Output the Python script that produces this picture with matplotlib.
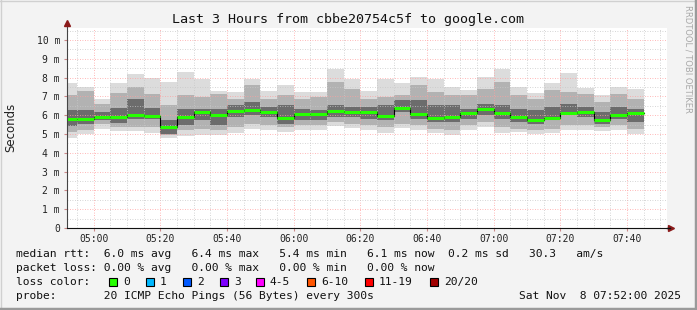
import pandas as pd
import matplotlib
matplotlib.use("Agg")
import matplotlib.pyplot as plt
import matplotlib.dates as mdates
from matplotlib.patches import Rectangle
from matplotlib.lines import Line2D

W, H = 697, 310

# 5 minute bins (start times), values in milliseconds
times = pd.date_range("2025-11-08 04:50", periods=35, freq="5min")
median = [5.78, 5.78, 5.92, 5.92, 6.03, 5.96, 5.39, 5.92, 6.17, 6.03, 6.24, 6.29,
          6.17, 5.87, 6.08, 6.08, 6.24, 6.15, 6.17, 5.96, 6.40, 6.06, 5.87, 5.90,
          6.13, 6.35, 6.12, 5.92, 5.76, 5.87, 6.12, 6.17, 5.76, 6.03, 6.12]
ping_max = [7.71, 7.50, 6.88, 7.71, 8.19, 8.00, 7.77, 8.30, 7.94, 7.30, 7.23, 7.91,
            7.30, 7.62, 7.23, 7.23, 8.44, 7.91, 7.28, 7.91, 7.73, 8.03, 7.91, 7.50,
            7.32, 8.03, 8.47, 7.50, 7.18, 7.71, 8.26, 7.46, 7.06, 7.50, 7.41]
ping_hi = [7.05, 7.27, 6.61, 7.20, 7.50, 7.14, 6.52, 7.05, 6.97, 7.14, 6.88, 7.59,
           6.88, 7.05, 6.88, 6.97, 7.77, 7.41, 6.88, 6.97, 7.05, 7.59, 7.23, 7.05,
           7.05, 7.41, 7.77, 7.05, 6.88, 7.32, 7.23, 7.14, 6.70, 7.14, 6.88]
core_hi = [6.30, 6.26, 6.17, 6.40, 6.88, 6.40, 5.75, 6.35, 6.35, 6.35, 6.52, 6.70,
           6.43, 6.52, 6.35, 6.26, 6.52, 6.43, 6.43, 6.52, 6.79, 6.79, 6.52, 6.52,
           6.35, 6.61, 6.52, 6.35, 6.26, 6.43, 6.61, 6.43, 6.17, 6.43, 6.35]
core_lo = [5.45, 5.55, 5.73, 5.60, 5.81, 5.78, 5.00, 5.46, 5.73, 5.46, 5.90, 6.00,
           5.90, 5.55, 5.73, 5.73, 5.90, 5.90, 5.81, 5.73, 6.17, 5.81, 5.64, 5.64,
           5.81, 5.99, 5.81, 5.64, 5.55, 5.73, 5.99, 5.90, 5.55, 5.81, 5.64]
ping_lo = [5.10, 5.20, 5.55, 5.37, 5.37, 5.37, 4.93, 5.20, 5.28, 5.20, 5.37, 5.55,
           5.46, 5.37, 5.46, 5.46, 5.64, 5.55, 5.46, 5.37, 5.55, 5.46, 5.28, 5.20,
           5.46, 5.64, 5.37, 5.28, 5.20, 5.28, 5.46, 5.46, 5.37, 5.46, 5.28]
ping_min = [4.79, 5.02, 5.28, 5.16, 5.14, 5.05, 4.79, 4.88, 4.96, 4.96, 5.05, 5.28,
            5.19, 5.10, 5.19, 5.23, 5.41, 5.34, 5.19, 5.05, 5.32, 5.23, 5.05, 4.96,
            5.19, 5.37, 5.05, 5.10, 4.98, 5.07, 5.23, 5.23, 5.14, 5.23, 4.98]

ytick_vals = list(range(0, 11))
ytick_labels = ["0"] + ["%d m" % v for v in range(1, 11)]

loss_labels = ["0", "1", "2", "3", "4-5", "6-10", "11-19", "20/20"]
loss_colors = ["#26ff00", "#00b8ff", "#0059ff", "#7e00ff", "#ff00ff", "#ff5500",
               "#ff0000", "#a10000"]

stat_lines = [
    "median rtt:  6.0 ms avg   6.4 ms max   5.4 ms min   6.1 ms now  0.2 ms sd   30.3   am/s",
    "packet loss: 0.00 % avg   0.00 % max   0.00 % min   0.00 % now",
]
probe_text = "probe:       20 ICMP Echo Pings (56 Bytes) every 300s"
date_text = "Sat Nov  8 07:52:00 2025"

mono = "DejaVu Sans Mono"


def fx(px):
    return px / W


def fy(py):
    return 1 - py / H


fig = plt.figure(figsize=(W / 100, H / 100), dpi=100, facecolor="#f3f3f3")
ax = fig.add_axes([fx(67), fy(228), 600 / W, 200 / H])
ax.set_facecolor("white")

width = pd.Timedelta(minutes=5) / pd.Timedelta(days=1)
x = mdates.date2num(times)

# smoke
ax.bar(x, [a - b for a, b in zip(ping_max, ping_min)], bottom=ping_min, width=width,
       align="edge", color="#dcdcdc", linewidth=0, zorder=1)
ax.bar(x, [a - b for a, b in zip(ping_hi, ping_lo)], bottom=ping_lo, width=width,
       align="edge", color="#b2b2b2", linewidth=0, zorder=1)
ax.bar(x, [a - b for a, b in zip(core_hi, core_lo)], bottom=core_lo, width=width,
       align="edge", color="#6c6c6c", linewidth=0, zorder=1)

# median line
edges = list(x) + [x[-1] + width]
ax.step(edges, median + [median[-1]], where="post", color="black", lw=0.8, zorder=3)
ax.hlines(median, x, x + width, color=loss_colors[0], lw=2.2, zorder=4)

start = pd.Timestamp("2025-11-08 04:52")
end = pd.Timestamp("2025-11-08 07:52")
ax.set_xlim(mdates.date2num(start), mdates.date2num(end))
ax.set_ylim(0, 10.64)

ax.xaxis.set_major_locator(mdates.MinuteLocator(byminute=[0, 20, 40]))
ax.xaxis.set_minor_locator(mdates.MinuteLocator(byminute=range(0, 60, 5)))
ax.xaxis.set_major_formatter(mdates.DateFormatter("%H:%M"))
ax.set_yticks(ytick_vals)
ax.set_yticklabels(ytick_labels)
ax.set_yticks([v + 0.5 for v in range(0, 11)], minor=True)

ax.set_axisbelow(False)
ax.grid(which="major", color="#ffa0a0", linestyle=(0, (1, 2)), lw=0.6)
ax.grid(which="minor", color="#c8c8c8", linestyle=(0, (1, 2)), lw=0.6)

for lab in ax.get_xticklabels() + ax.get_yticklabels():
    lab.set_fontfamily(mono)
    lab.set_fontsize(7)
    lab.set_color("#222222")
ax.tick_params(which="major", length=2, color="#cc8888", pad=2)
ax.tick_params(axis="y", which="major", pad=3)
ax.tick_params(which="minor", length=0)

for s in ["top", "right"]:
    ax.spines[s].set_visible(False)
ax.spines["left"].set_color("#444444")
ax.spines["bottom"].set_color("#111111")
ax.spines["left"].set_bounds(0, 10.9)
ax.spines["left"].set_zorder(5)
ax.spines["bottom"].set_zorder(5)

# axis arrows
fig.add_artist(Line2D([fx(667), fx(670)], [fy(228), fy(228)], color="#111111", lw=1))
ax.plot([0], [1.025], marker="^", color="#8b1a1a", ms=4, transform=ax.transAxes,
        clip_on=False, zorder=6)
ax.plot([1.007], [0], marker=">", color="#8b1a1a", ms=4, transform=ax.transAxes,
        clip_on=False, zorder=6)

# titles
fig.text(fx(348), fy(19), "Last 3 Hours from cbbe20754c5f to google.com",
         family=mono, fontsize=9.6, ha="center", va="center", color="#111111")
fig.text(fx(11), fy(127), "Seconds", rotation=90, fontsize=8.5, ha="center",
         va="center", color="#222222")
fig.text(fx(688), fy(5), "RRDTOOL / TOBI OETIKER", rotation=270, fontsize=6,
         ha="center", va="top", color="#a8a8a8")

# legend
fig.text(fx(16), fy(254), stat_lines[0], family=mono, fontsize=8.1, va="center",
         color="#111111")
fig.text(fx(16), fy(268), stat_lines[1], family=mono, fontsize=8.1, va="center",
         color="#111111")
fig.text(fx(16), fy(282), "loss color:", family=mono, fontsize=8.1, va="center",
         color="#111111")
box_x = [109, 146, 183, 220, 256, 307, 365, 430]
for bx, lab, col in zip(box_x, loss_labels, loss_colors):
    fig.add_artist(Rectangle((fx(bx), fy(286)), 8 / W, 8 / H, facecolor=col,
                             edgecolor="black", lw=0.8))
    fig.text(fx(bx + 14), fy(282), lab, family=mono, fontsize=8.1, va="center",
             color="#111111")
fig.text(fx(16), fy(296), probe_text, family=mono, fontsize=8.1, va="center",
         color="#111111")
fig.text(fx(681), fy(296), date_text, family=mono, fontsize=8.1, va="center",
         ha="right", color="#111111")

# frame shadow
fig.add_artist(Line2D([0, 1], [fy(0.5), fy(0.5)], color="#d0d0d0", lw=1))
fig.add_artist(Line2D([fx(0.5), fx(0.5)], [0, 1], color="#d0d0d0", lw=1))
fig.add_artist(Line2D([0, 1], [fy(308.5), fy(308.5)], color="#9a9a9a", lw=2.5))
fig.add_artist(Line2D([fx(695.5), fx(695.5)], [0, 1], color="#9a9a9a", lw=2.5))

fig.savefig("out.png", dpi=100, facecolor=fig.get_facecolor())
